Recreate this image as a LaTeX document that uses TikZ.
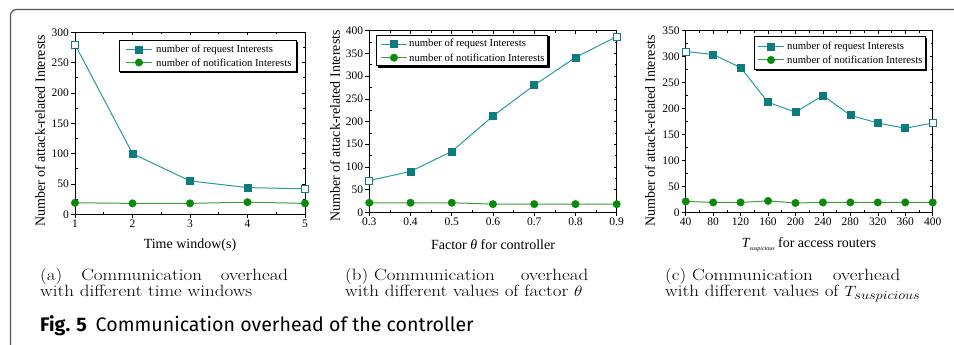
\documentclass[tikz,border=0pt]{standalone}
\usepackage{fontspec}
\newfontfamily\tnr{Liberation Serif}
\newfontfamily\fira{Fira Sans}
\definecolor{tealc}{HTML}{0E7C7E}
\definecolor{teall}{HTML}{2A9A9C}
\definecolor{greenc}{HTML}{0A8A0A}
\definecolor{greenl}{HTML}{3AA03A}
\definecolor{framec}{HTML}{555555}
\begin{document}
\begin{tikzpicture}[x=1pt,y=-1pt,
  axis/.style={draw=black,line width=0.7pt},
  tk/.style={draw=black,line width=0.6pt},
  reqline/.style={draw=teall,line width=1pt},
  notline/.style={draw=greenl,line width=1pt},
  sqm/.style={rectangle,draw=tealc,fill=tealc,line width=0.6pt,minimum size=7pt,inner sep=0pt},
  sqo/.style={sqm,fill=white},
  cim/.style={circle,draw=greenc,fill=greenc,minimum size=7.5pt,inner sep=0pt},
  ticklab/.style={font=\tnr\fontsize{11.5}{13}\selectfont,inner sep=0pt},
  axlab/.style={font=\tnr\fontsize{14}{16}\selectfont,inner sep=0pt},
  leglab/.style={font=\tnr\fontsize{10.7}{12}\selectfont,inner sep=0pt,anchor=west},
  legbox/.style={draw=black,fill=white,line width=0.6pt},
  legshadow/.style={fill=black},
  caplab/.style={font=\fontsize{19}{19}\selectfont,inner sep=0pt,anchor=base west,yscale=0.86,transform shape}
]
\useasboundingbox (0,0) rectangle (954,345);
\draw[framec,line width=1.2pt,rounded corners=6pt] (10.5,345) -- (10.5,9.5) -- (954,9.5);

% ---------------- plot (a)
\begin{scope}[shift={(17.5,214.3)},x=57.5pt,y=0.6067pt]
  \foreach \v in {1,2,3,4,5}{
    \draw[tk] (\v,0) -- ++(0pt,-4pt);
    \draw[tk] (\v,300) -- ++(0pt,-3pt);
    \node[ticklab,anchor=north] at ([yshift=-5.5pt]\v,0) {\v};}
  \foreach \v in {1.5,2.5,3.5,4.5}{
    \draw[tk] (\v,0) -- ++(0pt,2.5pt);
    \draw[tk] (\v,300) -- ++(0pt,-2pt);}
  \foreach \v in {0,50,...,300}{
    \draw[tk] (1,\v) -- ++(-4pt,0pt);
    \draw[tk] (5,\v) -- ++(-3pt,0pt);
    \node[ticklab,anchor=east] at ([xshift=-6pt]1,\v) {\v};}
  \foreach \v in {25,75,...,275}{
    \draw[tk] (1,\v) -- ++(2.5pt,0pt);
    \draw[tk] (5,\v) -- ++(-2pt,0pt);}
  \draw[axis] (1,0) rectangle (5,300);
  \draw[reqline] plot coordinates {(1,280) (2,100) (3,55) (4,44) (5,42)};
  \draw[notline] plot coordinates {(1,19) (2,18) (3,18) (4,20) (5,18)};
  \foreach \p in {(2,100),(3,55),(4,44)} \node[sqm] at \p {};
  \foreach \p in {(1,280),(5,42)} \node[sqo] at \p {};
  \foreach \p in {(1,19),(2,18),(3,18),(4,20),(5,18)} \node[cim] at \p {};
\end{scope}
\node[axlab,rotate=90] at (40,131) {Number of attack-related Interests};
\node[axlab] at (190,245) {Time window(s)};
\draw[legshadow] (120.5,42.2) rectangle (297.5,72.5);
\draw[legbox] (119,40.7) rectangle (296,71);
\draw[reqline] (126,50) -- (152,50);
\node[sqm] at (139,50) {};
\node[leglab] at (156,50) {number of request Interests};
\draw[notline] (126,62.5) -- (152,62.5);
\node[cim] at (139,62.5) {};
\node[leglab] at (156,62.5) {number of notification Interests};

% ---------------- plot (b)
\begin{scope}[shift={(245.6,212.3)},x=412.3pt,y=0.454pt]
  \foreach \v in {0.3,0.4,0.5,0.6,0.7,0.8,0.9}{
    \draw[tk] (\v,0) -- ++(0pt,-4pt);
    \draw[tk] (\v,400) -- ++(0pt,-3pt);
    \node[ticklab,anchor=north] at ([yshift=-5.5pt]\v,0) {\v};}
  \foreach \v in {0.35,0.45,0.55,0.65,0.75,0.85}{
    \draw[tk] (\v,0) -- ++(0pt,2.5pt);
    \draw[tk] (\v,400) -- ++(0pt,-2pt);}
  \foreach \v in {0,50,...,400}{
    \draw[tk] (0.3,\v) -- ++(-4pt,0pt);
    \draw[tk] (0.9,\v) -- ++(-3pt,0pt);
    \node[ticklab,anchor=east] at ([xshift=-6pt]0.3,\v) {\v};}
  \foreach \v in {25,75,...,375}{
    \draw[tk] (0.3,\v) -- ++(2.5pt,0pt);
    \draw[tk] (0.9,\v) -- ++(-2pt,0pt);}
  \draw[axis] (0.3,0) rectangle (0.9,400);
  \draw[reqline] plot coordinates {(0.3,70) (0.4,90) (0.5,134) (0.6,212) (0.7,280) (0.8,341) (0.9,387)};
  \draw[notline] plot coordinates {(0.3,21) (0.4,21) (0.5,21) (0.6,18) (0.7,18) (0.8,18) (0.9,18)};
  \foreach \p in {(0.4,90),(0.5,134),(0.6,212),(0.7,280),(0.8,341)} \node[sqm] at \p {};
  \foreach \p in {(0.3,70),(0.9,387)} \node[sqo] at \p {};
  \foreach \p in {(0.3,21),(0.4,21),(0.5,21),(0.6,18),(0.7,18),(0.8,18),(0.9,18)} \node[cim] at \p {};
\end{scope}
\node[axlab,rotate=90] at (335,126) {Number of attack-related Interests};
\node[axlab] at (493,245) {Factor {\itshape θ} for controller};
\draw[legshadow] (378.2,36.5) rectangle (548.8,67.2);
\draw[legbox] (376.7,35) rectangle (547.3,65.7);
\draw[reqline] (381,44.3) -- (407,44.3);
\node[sqm] at (394,44.3) {};
\node[leglab] at (409,44.3) {number of request Interests};
\draw[notline] (381,57.7) -- (407,57.7);
\node[cim] at (394,57.7) {};
\node[leglab] at (409,57.7) {number of notification Interests};

% ---------------- plot (c)
\begin{scope}[shift={(658.26,212.3)},x=0.6861pt,y=0.5189pt]
  \foreach \v in {40,80,...,400}{
    \draw[tk] (\v,0) -- ++(0pt,-4pt);
    \draw[tk] (\v,350) -- ++(0pt,-3pt);
    \node[ticklab,anchor=north] at ([yshift=-5.5pt]\v,0) {\v};}
  \foreach \v in {60,100,...,380}{
    \draw[tk] (\v,0) -- ++(0pt,2.5pt);
    \draw[tk] (\v,350) -- ++(0pt,-2pt);}
  \foreach \v in {0,50,...,350}{
    \draw[tk] (40,\v) -- ++(-4pt,0pt);
    \draw[tk] (400,\v) -- ++(-3pt,0pt);
    \node[ticklab,anchor=east] at ([xshift=-6pt]40,\v) {\v};}
  \foreach \v in {25,75,...,325}{
    \draw[tk] (40,\v) -- ++(2.5pt,0pt);
    \draw[tk] (400,\v) -- ++(-2pt,0pt);}
  \draw[axis] (40,0) rectangle (400,350);
  \draw[reqline] plot coordinates {(40,310) (80,304) (120,279) (160,212) (200,193) (240,225) (280,187) (320,172) (360,162) (400,172)};
  \draw[notline] plot coordinates {(40,21) (80,19) (120,19) (160,22) (200,18) (240,19) (280,19) (320,19) (360,19) (400,19)};
  \foreach \p in {(80,304),(120,279),(160,212),(200,193),(240,225),(280,187),(320,172),(360,162)} \node[sqm] at \p {};
  \foreach \p in {(40,310),(400,172)} \node[sqo] at \p {};
  \foreach \p in {(40,21),(80,19),(120,19),(160,22),(200,18),(240,19),(280,19),(320,19),(360,19),(400,19)} \node[cim] at \p {};
\end{scope}
\node[axlab,rotate=90] at (650,131) {Number of attack-related Interests};
\node[axlab] at (809,245) {{\itshape T}\raisebox{-3pt}{\fontsize{6}{6}\selectfont\itshape suspicious} for access routers};
\draw[legshadow] (755.8,38.2) rectangle (926.5,70.5);
\draw[legbox] (754.3,36.7) rectangle (925,69);
\draw[reqline] (758,46.7) -- (784,46.7);
\node[sqm] at (771,46.7) {};
\node[leglab] at (787,46.7) {number of request Interests};
\draw[notline] (758,60) -- (784,60);
\node[cim] at (771,60) {};
\node[leglab] at (787,60) {number of notification Interests};

% ---------------- captions
\node[caplab] at (40,280) {\hbox to 248pt{(a)\hfill Communication\hfill overhead}};
\node[caplab] at (40,296.5) {with different time windows};
\node[caplab] at (345,280) {\hbox to 243pt{(b) Communication\hfill overhead}};
\node[caplab] at (345,296.5) {with different values of factor $\theta$};
\node[caplab] at (665,280) {\hbox to 235pt{(c) Communication\hfill overhead}};
\node[caplab] at (665,296.5) {with different values of $T_{suspicious}$};
\node[font=\fira\fontsize{19.6}{21}\selectfont,inner sep=0pt,anchor=base west] at (40,331) {\textbf{Fig. 5}\hspace{0.45em}Communication overhead of the controller};
\end{tikzpicture}
\end{document}
